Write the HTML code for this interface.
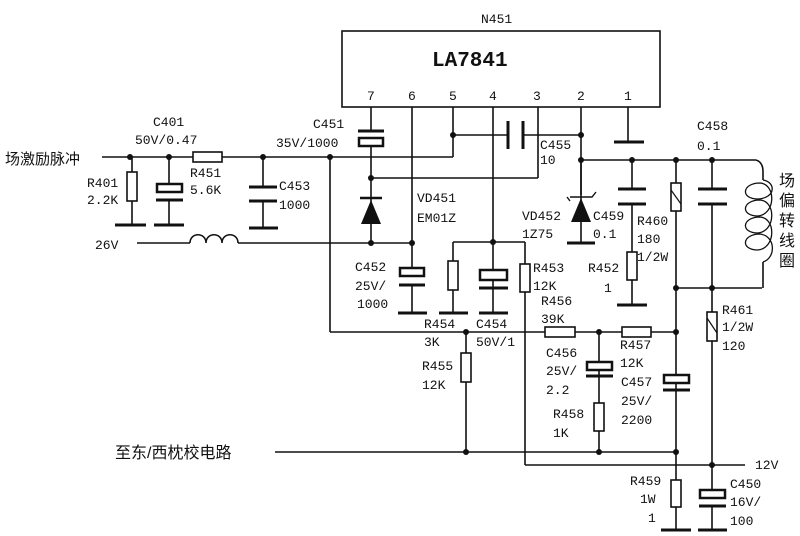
<!DOCTYPE html>
<html><head><meta charset="utf-8"><style>
html,body{margin:0;padding:0;background:#fff;}
svg{display:block;}
text{font-family:"Liberation Mono","Noto Sans CJK SC",monospace;font-size:13px;fill:#111;}
.c{font-family:"Liberation Sans","Noto Sans CJK SC",sans-serif;font-size:16px;}
</style></head><body>
<svg width="800" height="536" viewBox="0 0 800 536" xmlns="http://www.w3.org/2000/svg">
<g stroke="#111" stroke-width="1.6" fill="none">
<rect x="342" y="31" width="318" height="76"/>
<line x1="371" y1="107" x2="371" y2="130"/>
<line x1="412" y1="107" x2="412" y2="268"/>
<line x1="453" y1="107" x2="453" y2="157"/>
<line x1="493" y1="107" x2="493" y2="242"/>
<line x1="538" y1="107" x2="538" y2="178"/>
<line x1="581" y1="107" x2="581" y2="195"/>
<line x1="628" y1="107" x2="628" y2="142"/>
<line x1="614" y1="142" x2="644" y2="142" stroke-width="3"/>
<line x1="358" y1="131" x2="384" y2="131" stroke-width="3"/>
<rect x="359" y="138" width="24" height="8" stroke-width="2.5"/>
<line x1="371" y1="146" x2="371" y2="242"/>
<line x1="102" y1="157" x2="453" y2="157"/>
<line x1="330" y1="157" x2="330" y2="332"/>
<line x1="371" y1="178" x2="538" y2="178"/>
<line x1="453" y1="135" x2="508" y2="135"/>
<line x1="508" y1="121" x2="508" y2="149" stroke-width="3"/>
<line x1="523" y1="121" x2="523" y2="149" stroke-width="3"/>
<line x1="523" y1="135" x2="581" y2="135"/>
<line x1="132" y1="157" x2="132" y2="225"/>
<rect x="127" y="172" width="10" height="29" fill="#fff"/>
<line x1="115" y1="225" x2="146" y2="225" stroke-width="3"/>
<line x1="169" y1="157" x2="169" y2="184"/>
<rect x="157" y="184" width="25" height="8" stroke-width="2.5"/>
<line x1="156" y1="200" x2="183" y2="200" stroke-width="3"/>
<line x1="169" y1="200" x2="169" y2="225"/>
<line x1="154" y1="225" x2="184" y2="225" stroke-width="3"/>
<rect x="193" y="152" width="29" height="10" fill="#fff"/>
<line x1="263" y1="157" x2="263" y2="187"/>
<line x1="249" y1="187" x2="277" y2="187" stroke-width="3"/>
<line x1="249" y1="201" x2="277" y2="201" stroke-width="3"/>
<line x1="263" y1="201" x2="263" y2="228"/>
<line x1="249" y1="228" x2="278" y2="228" stroke-width="3"/>
<line x1="137" y1="243" x2="190" y2="243"/>
<path d="M190 243 C190 232 206 232 206 243 C206 232 222 232 222 243 C222 232 238 232 238 243"/>
<line x1="238" y1="243" x2="412" y2="243"/>
<line x1="360" y1="198" x2="382" y2="198" stroke-width="2.5"/>
<rect x="400" y="268" width="24" height="8" stroke-width="2.5" fill="#fff"/>
<line x1="399" y1="285" x2="425" y2="285" stroke-width="3"/>
<line x1="412" y1="285" x2="412" y2="313"/>
<line x1="398" y1="313" x2="427" y2="313" stroke-width="3"/>
<line x1="453" y1="242" x2="525" y2="242"/>
<line x1="453" y1="242" x2="453" y2="313"/>
<rect x="448" y="261" width="10" height="29" fill="#fff"/>
<line x1="439" y1="313" x2="468" y2="313" stroke-width="3"/>
<line x1="493" y1="242" x2="493" y2="313"/>
<rect x="480" y="270" width="27" height="10" stroke-width="2.5" fill="#fff"/>
<line x1="479" y1="288" x2="508" y2="288" stroke-width="3"/>
<line x1="479" y1="313" x2="508" y2="313" stroke-width="3"/>
<line x1="525" y1="242" x2="525" y2="465"/>
<rect x="520" y="264" width="10" height="28" fill="#fff"/>
<line x1="525" y1="465" x2="745" y2="465"/>
<line x1="581" y1="160" x2="581" y2="243"/>
<line x1="567" y1="243" x2="595" y2="243" stroke-width="3"/>
<path d="M570 197 L574 197 L592 197 L596 192" stroke-width="1.4"/>
<line x1="567" y1="197" x2="570" y2="201" stroke-width="1.4"/>
<line x1="581" y1="160" x2="756" y2="160"/>
<line x1="632" y1="160" x2="632" y2="189"/>
<line x1="618" y1="189" x2="646" y2="189" stroke-width="3"/>
<line x1="618" y1="204" x2="646" y2="204" stroke-width="3"/>
<line x1="632" y1="204" x2="632" y2="305"/>
<rect x="627" y="252" width="10" height="28" fill="#fff"/>
<line x1="617" y1="305" x2="647" y2="305" stroke-width="3"/>
<line x1="676" y1="160" x2="676" y2="530"/>
<rect x="671" y="183" width="10" height="28" fill="#fff"/>
<line x1="671" y1="190" x2="681" y2="204" stroke-width="1.2"/>
<line x1="712" y1="160" x2="712" y2="189"/>
<line x1="698" y1="189" x2="727" y2="189" stroke-width="3"/>
<line x1="698" y1="204" x2="727" y2="204" stroke-width="3"/>
<line x1="712" y1="204" x2="712" y2="490"/>
<rect x="707" y="312" width="10" height="29" fill="#fff"/>
<line x1="707" y1="318" x2="717" y2="333" stroke-width="1.2"/>
<line x1="676" y1="288" x2="762" y2="288"/>
<path d="M756 160 Q763 162 763 172 L763 180"/>
<path d="M763 180 C776 182 776 198 758 199 C740 199 742 183 760 183 C776 184 776 214 758 216 C740 216 742 200 760 200 C776 201 776 231 758 233 C740 233 742 217 760 217 C776 218 776 248 758 250 C740 250 742 234 760 234 C776 236 776 258 763 262" stroke-width="1.3"/>
<path d="M763 262 L763 288"/>
<line x1="330" y1="332" x2="676" y2="332"/>
<rect x="545" y="327" width="30" height="10" fill="#fff"/>
<rect x="622" y="327" width="29" height="10" fill="#fff"/>
<line x1="466" y1="332" x2="466" y2="452"/>
<rect x="461" y="353" width="10" height="29" fill="#fff"/>
<line x1="599" y1="332" x2="599" y2="452"/>
<rect x="587" y="362" width="25" height="8" stroke-width="2.5" fill="#fff"/>
<line x1="586" y1="376" x2="613" y2="376" stroke-width="3"/>
<rect x="594" y="403" width="10" height="28" fill="#fff"/>
<line x1="275" y1="452" x2="676" y2="452"/>
<rect x="664" y="375" width="25" height="8" stroke-width="2.5" fill="#fff"/>
<line x1="663" y1="390" x2="690" y2="390" stroke-width="3"/>
<rect x="671" y="480" width="10" height="27" fill="#fff"/>
<line x1="661" y1="530" x2="691" y2="530" stroke-width="3"/>
<rect x="700" y="490" width="25" height="8" stroke-width="2.5" fill="#fff"/>
<line x1="699" y1="506" x2="726" y2="506" stroke-width="3"/>
<line x1="712" y1="506" x2="712" y2="530"/>
<line x1="698" y1="530" x2="727" y2="530" stroke-width="3"/>
</g>
<g fill="#111">
<polygon points="371,200 361,224 381,224"/>
<polygon points="581,198 571,222 591,222"/>
<circle cx="130" cy="157" r="3"/><circle cx="169" cy="157" r="3"/><circle cx="263" cy="157" r="3"/><circle cx="330" cy="157" r="3"/>
<circle cx="371" cy="178" r="3"/><circle cx="371" cy="243" r="3"/><circle cx="412" cy="243" r="3"/>
<circle cx="453" cy="135" r="3"/><circle cx="581" cy="135" r="3"/><circle cx="581" cy="160" r="3"/>
<circle cx="632" cy="160" r="3"/><circle cx="676" cy="160" r="3"/><circle cx="712" cy="160" r="3"/>
<circle cx="493" cy="242" r="3"/><circle cx="676" cy="288" r="3"/><circle cx="712" cy="288" r="3"/>
<circle cx="466" cy="332" r="3"/><circle cx="599" cy="332" r="3"/><circle cx="676" cy="332" r="3"/>
<circle cx="466" cy="452" r="3"/><circle cx="599" cy="452" r="3"/><circle cx="676" cy="452" r="3"/>
<circle cx="712" cy="465" r="3"/>
</g>
<text x="481" y="23">N451</text>
<text x="432" y="66" style="font-size:21px;font-weight:bold;font-family:'Liberation Mono',monospace">LA7841</text>
<text x="367" y="100">7</text><text x="408" y="100">6</text><text x="449" y="100">5</text><text x="489" y="100">4</text><text x="533" y="100">3</text><text x="577" y="100">2</text><text x="624" y="100">1</text>
<text class="c" x="5" y="164" style="font-size:15px">场激励脉冲</text>
<text x="153" y="126">C401</text><text x="135" y="144">50V/0.47</text>
<text x="87" y="187">R401</text><text x="87" y="204">2.2K</text>
<text x="190" y="177">R451</text><text x="190" y="194">5.6K</text>
<text x="279" y="190">C453</text><text x="279" y="209">1000</text>
<text x="313" y="128">C451</text><text x="276" y="147">35V/1000</text>
<text x="95" y="249">26V</text>
<text x="417" y="202">VD451</text><text x="417" y="222">EM01Z</text>
<text x="540" y="149">C455</text><text x="540" y="164">10</text>
<text x="522" y="220">VD452</text><text x="522" y="238">1Z75</text>
<text x="593" y="220">C459</text><text x="593" y="238">0.1</text>
<text x="637" y="225">R460</text><text x="637" y="243">180</text><text x="637" y="261">1/2W</text>
<text x="588" y="272">R452</text><text x="604" y="292">1</text>
<text x="697" y="130">C458</text><text x="697" y="150">0.1</text>
<text class="c" x="779" y="186">场</text><text class="c" x="779" y="206">偏</text><text class="c" x="779" y="226">转</text><text class="c" x="779" y="246">线</text><text class="c" x="779" y="266">圈</text>
<text x="355" y="271">C452</text><text x="355" y="290">25V/</text><text x="357" y="308">1000</text>
<text x="533" y="272">R453</text><text x="533" y="290">12K</text>
<text x="541" y="305">R456</text><text x="541" y="323">39K</text>
<text x="424" y="328">R454</text><text x="424" y="346">3K</text>
<text x="476" y="328">C454</text><text x="476" y="346">50V/1</text>
<text x="422" y="370">R455</text><text x="422" y="389">12K</text>
<text x="546" y="357">C456</text><text x="546" y="375">25V/</text><text x="546" y="394">2.2</text>
<text x="620" y="349">R457</text><text x="620" y="367">12K</text>
<text x="621" y="386">C457</text><text x="621" y="405">25V/</text><text x="621" y="424">2200</text>
<text x="553" y="418">R458</text><text x="553" y="437">1K</text>
<text x="722" y="314">R461</text><text x="722" y="331">1/2W</text><text x="722" y="350">120</text>
<text x="630" y="485">R459</text><text x="640" y="503">1W</text><text x="648" y="522">1</text>
<text x="730" y="488">C450</text><text x="730" y="506">16V/</text><text x="730" y="525">100</text>
<text x="755" y="469">12V</text>
<text class="c" x="115" y="458">至东/西枕校电路</text>
</svg>
</body></html>
